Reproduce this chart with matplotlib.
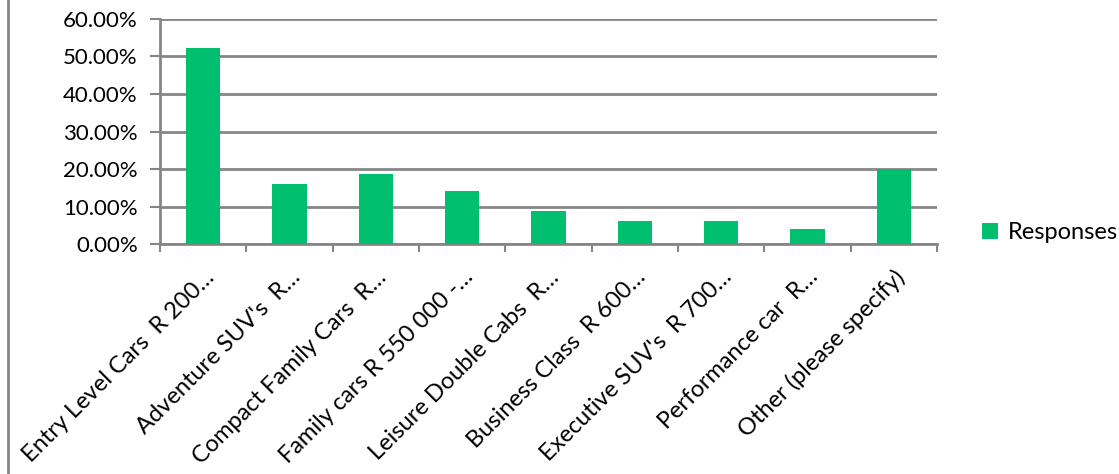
import matplotlib.pyplot as plt
from matplotlib.lines import Line2D
from matplotlib.ticker import FuncFormatter, FixedLocator
import numpy as np

categories = [
    "Entry Level Cars  R 200…",
    "Adventure SUV's  R…",
    "Compact Family Cars  R…",
    "Family cars R 550 000 -…",
    "Leisure Double Cabs  R…",
    "Business Class  R 600…",
    "Executive SUV's  R 700…",
    "Performance car  R…",
    "Other (please specify)",
]
responses = [52.17, 15.94, 18.70, 14.20, 8.70, 6.05, 6.05, 3.90, 19.90]
yticks = [0, 10, 20, 30, 40, 50, 60]

plt.rcParams['font.family'] = ['Lato', 'DejaVu Sans']

fig = plt.figure(figsize=(11.19, 4.74), dpi=100)
ax = fig.add_axes([0.143, 0.485, 0.6944, 0.475])

x = np.arange(len(categories))
ax.bar(x, responses, width=0.4, color='#00BF6F', label='Responses', zorder=3)

ax.set_xlim(-0.5, len(categories) - 0.5)
ax.set_ylim(0, 60)
ax.set_yticks(yticks)
ax.yaxis.set_major_formatter(FuncFormatter(lambda v, p: f"{v:.2f}%"))
ax.grid(axis='y', color='#868686', linewidth=2, zorder=0)
ax.tick_params(axis='y', length=7, width=1.5, color='#868686', labelsize=16, pad=9)

ax.set_xticks(x)
ax.set_xticklabels(categories, rotation=45, ha='right', rotation_mode='anchor', fontsize=17)
ax.tick_params(axis='x', which='major', length=0, pad=16)
ax.xaxis.set_minor_locator(FixedLocator(np.arange(len(categories) + 1) - 0.5))
ax.tick_params(axis='x', which='minor', length=6, width=1.5, color='#868686')

for s in ['top', 'right']:
    ax.spines[s].set_visible(False)
ax.spines['bottom'].set_color('#868686')
ax.spines['bottom'].set_linewidth(2)
ax.spines['left'].set_color('#868686')
ax.spines['left'].set_linewidth(2)

ax.legend(loc='center left', bbox_to_anchor=(1.03, 0.05), frameon=False,
          fontsize=17, handlelength=0.7, handleheight=0.7, handletextpad=0.4)

fig.add_artist(Line2D([0.007, 0.007], [0, 1], transform=fig.transFigure,
                      color='#868686', linewidth=2))

fig.savefig('out.png', dpi=100)
